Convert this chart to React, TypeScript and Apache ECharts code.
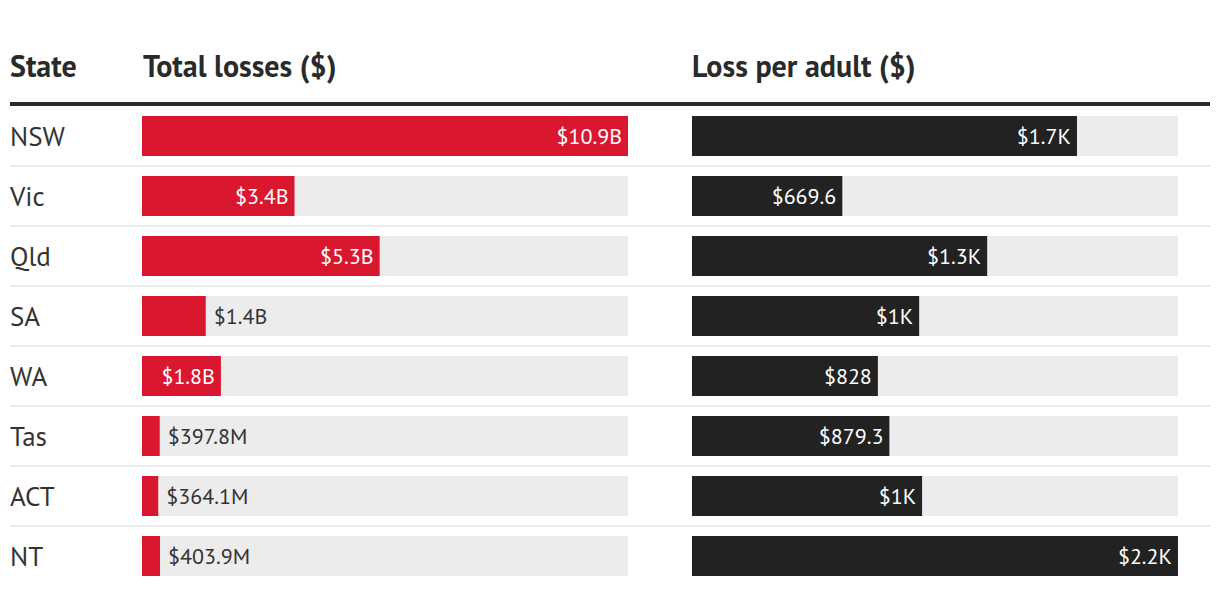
import React, { useEffect, useRef } from "react";
import * as echarts from "echarts";

const states = ["NSW", "Vic", "Qld", "SA", "WA", "Tas", "ACT", "NT"];
// Total losses, in billions of dollars
const totalLosses = [10.9, 3.42, 5.33, 1.43, 1.77, 0.3978, 0.3641, 0.4039];
// Loss per adult, in dollars
const lossPerAdult = [1715, 669.6, 1315, 1012, 828, 879.3, 1025, 2165];
const headers = ["State", "Total losses ($)", "Loss per adult ($)"];

const FONT = "'PT Sans', Lato, sans-serif";
const RED = "#d91830";
const DARK = "#222222";
const BG = "#ececec";
const TEXT = "#333333";

const trim = (n: number) => {
  const s = n.toFixed(1);
  return s.endsWith(".0") ? s.slice(0, -2) : s;
};
const fmtTotal = (v: number) => (v >= 1 ? `$${trim(v)}B` : `$${trim(v * 1000)}M`);
const fmtAdult = (v: number) => (v >= 1000 ? `$${trim(v / 1000)}K` : `$${trim(v)}`);

const BAR_AREA = 486;

function makeData(values: number[], max: number, fmt: (v: number) => string) {
  return values.map((v) => {
    const px = (v / max) * BAR_AREA;
    const inside = px > 70;
    return {
      value: v,
      label: {
        show: true,
        position: inside ? "insideRight" : "right",
        distance: inside ? 6 : 8,
        color: inside ? "#ffffff" : TEXT,
        fontFamily: FONT,
        fontSize: 22,
        formatter: () => fmt(v),
      },
    };
  });
}

export default function App() {
  const ref = useRef<HTMLDivElement>(null);
  useEffect(() => {
    if (!ref.current) return;
    const chart = echarts.init(ref.current, null, { renderer: "svg" });
    const maxTotal = Math.max(...totalLosses);
    const maxAdult = Math.max(...lossPerAdult);
    const headerStyle = (text: string) => ({
      text,
      font: `bold 30px ${FONT}`,
      fill: "#2a2a2a",
      textVerticalAlign: "middle",
    });
    chart.setOption({
      animation: false,
      graphic: [
        { type: "text", x: 10, y: 65, style: headerStyle(headers[0]) },
        { type: "text", x: 143, y: 65, style: headerStyle(headers[1]) },
        { type: "text", x: 692, y: 65, style: headerStyle(headers[2]) },
        {
          type: "rect",
          shape: { x: 10, y: 102, width: 1200, height: 4 },
          style: { fill: "#2a2a2a" },
        },
      ],
      grid: [
        { left: 142, top: 106, width: BAR_AREA, height: 480 },
        { left: 692, top: 106, width: BAR_AREA, height: 480 },
        { left: 10, top: 106, width: 1200, height: 480 },
      ],
      xAxis: [
        { type: "value", gridIndex: 0, min: 0, max: maxTotal, show: false },
        { type: "value", gridIndex: 1, min: 0, max: maxAdult, show: false },
        { type: "value", gridIndex: 2, min: 0, max: 1, show: false },
      ],
      yAxis: [
        {
          type: "category",
          gridIndex: 0,
          data: states,
          inverse: true,
          axisLine: { show: false },
          axisTick: { show: false },
          axisLabel: { align: "left", margin: 132, color: TEXT, fontFamily: FONT, fontSize: 27 },
        },
        {
          type: "category",
          gridIndex: 1,
          data: states,
          inverse: true,
          axisLine: { show: false },
          axisTick: { show: false },
          axisLabel: { show: false },
        },
        {
          type: "category",
          gridIndex: 2,
          data: states,
          inverse: true,
          axisLine: { show: false },
          axisTick: { show: false },
          axisLabel: { show: false },
          splitLine: {
            show: true,
            showMinLine: false,
            showMaxLine: false,
            lineStyle: { color: "#ececec", width: 2 },
          },
        },
      ],
      series: [
        {
          type: "bar",
          xAxisIndex: 0,
          yAxisIndex: 0,
          barWidth: 40,
          showBackground: true,
          backgroundStyle: { color: BG },
          itemStyle: { color: RED },
          data: makeData(totalLosses, maxTotal, fmtTotal),
        },
        {
          type: "bar",
          xAxisIndex: 1,
          yAxisIndex: 1,
          barWidth: 40,
          showBackground: true,
          backgroundStyle: { color: BG },
          itemStyle: { color: DARK },
          data: makeData(lossPerAdult, maxAdult, fmtAdult),
        },
      ],
    });
    return () => chart.dispose();
  }, []);
  return (
    <div
      ref={ref}
      style={{ position: "absolute", left: 0, top: 0, width: 1220, height: 594, background: "#ffffff" }}
    />
  );
}
